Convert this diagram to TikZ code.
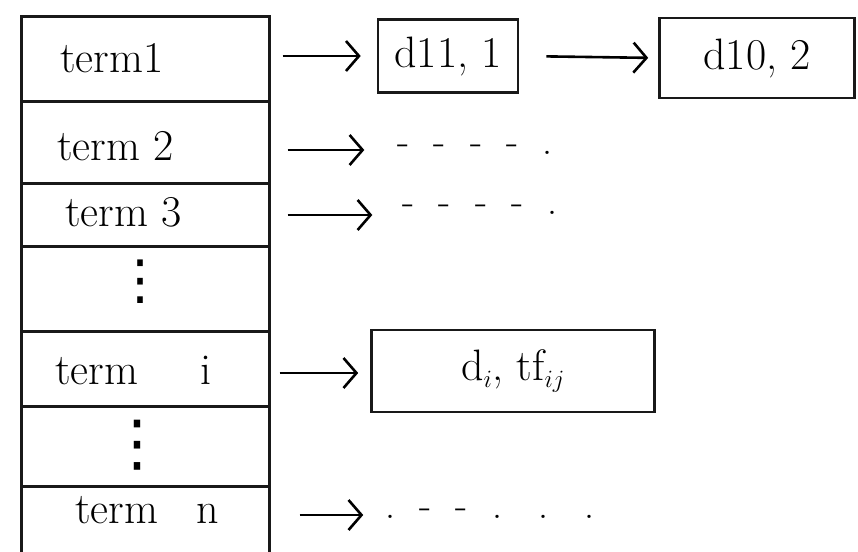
\documentclass[tikz,border=0pt]{standalone}
\usepackage{fontspec}
\newfontfamily\symfont{DejaVu Sans}
\usetikzlibrary{arrows.meta}
\begin{document}
\begin{tikzpicture}[x=1pt,y=-1pt,
  ink/.style={line width=2.6pt, draw=black!90},
  rowbox/.style={ink, rectangle, anchor=north west, minimum width=248pt, inner sep=0pt},
  postbox/.style={ink, rectangle, inner sep=0pt, font=\fontsize{44}{48}\selectfont},
  label/.style={font=\fontsize{44}{48}\selectfont, inner sep=0pt, anchor=west},
  pointer/.style={line width=2.6pt, -{Straight Barb[length=13pt,width=30pt,line width=2.6pt]}},
  trail/.style={font=\fontsize{40}{44}\selectfont, inner sep=0pt},
  dotcol/.style={inner sep=0pt, font=\symfont\fontsize{54}{60}\selectfont}]
\useasboundingbox (0,0) rectangle (858,551);
\fill[white] (0,0) rectangle (858,551);

% term table
\node[rowbox, minimum height=85pt] (r1) at (20,15) {};
\node[rowbox, minimum height=82pt] (r2) at (20,100) {};
\node[rowbox, minimum height=63pt] (r3) at (20,182) {};
\node[rowbox, minimum height=85pt] (r4) at (20,245) {};
\node[rowbox, minimum height=75pt] (r5) at (20,330) {};
\node[rowbox, minimum height=80pt] (r6) at (20,405) {};
\node[rowbox, minimum height=90pt] (r7) at (20,485) {};

% row labels
\node[label] (t1) at (60,58) {term1};
\node[label] (t2) at (57,146) {term 2};
\node[label] (t3) at (65,212) {term 3};
\node[dotcol] (v1) at (140,282) {⋮};
\node[label] (ti) at (55,370) {term\hspace{62pt}i};
\node[dotcol, font=\symfont\fontsize{62}{66}\selectfont] (v2) at (137,445) {⋮};
\node[label] (tn) at (75,510) {term\hspace{38pt}n};

% postings
\node[postbox, minimum width=140pt, minimum height=73pt] (b1) at (448,56) {d11, 1};
\node[postbox, minimum width=195pt, minimum height=80pt] (b2) at (757,58) {d10, 2};
\node[postbox, minimum width=283pt, minimum height=82pt] (b3) at (513,371) {d$_i$, tf$_{ij}$\hspace{60pt}};

% unfinished lists
\node[trail] (d2) at (475,150) {-\ \ -\ \ -\ \ -\ \ .};
\node[trail] (d3) at (480,210) {-\ \ -\ \ -\ \ -\ \ .};
\node[trail] (dn) at (490,514) {.\ \ -\ \ -\ \ .\ \ \ .\ \ \ .};

% pointers
\draw[pointer, shorten <=12pt, shorten >=16pt] (r1.east |- b1.west) -- (b1.west);
\draw[pointer, shorten <=27pt, shorten >=10pt] (b1.east) -- (b2.west);
\draw[pointer, shorten <=17pt, shorten >=33pt] (r2.east |- 0,150) -- (d2.west |- 0,150);
\draw[pointer, shorten <=17pt, shorten >=30pt] (r3.east |- 0,215) -- (d3.west |- 0,215);
\draw[pointer, shorten <=9pt, shorten >=12pt] (r5.east |- 0,373) -- (b3.west |- 0,373);
\draw[pointer, shorten <=29pt, shorten >=22pt] (r7.east |- 0,515) -- (dn.west |- 0,515);
\end{tikzpicture}
\end{document}
